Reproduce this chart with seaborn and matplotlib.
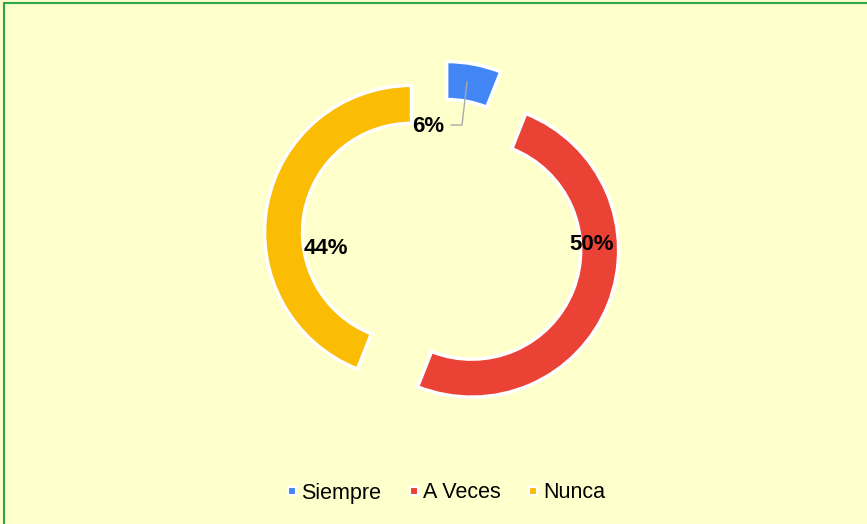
import matplotlib
matplotlib.use("Agg")
import matplotlib.pyplot as plt
import seaborn as sns
from matplotlib.lines import Line2D
from matplotlib.patches import Rectangle

categories = ["Siempre", "A Veces", "Nunca"]
values = [6, 50, 44]
label_texts = ["6%", "50%", "44%"]
colors = ["#4285F4", "#EA4335", "#FBBC04"]

sns.set_style("white")
plt.rcParams["font.family"] = ["Liberation Sans", "DejaVu Sans"]
plt.rcParams["text.color"] = "black"

bg = "#FFFFCC"
fig = plt.figure(figsize=(8.67, 5.24), dpi=100, facecolor=bg)
ax = fig.add_axes([0, 0, 1, 1])
ax.set_facecolor(bg)

# donut, pixel-like data space (y up); explode is in data units here
wedges, _ = ax.pie(
    values,
    colors=sns.color_palette(colors),
    startangle=90,
    counterclock=False,
    explode=[30, 33, 30],
    radius=147,
    center=(441, 286),
    wedgeprops=dict(width=38, edgecolor="white", linewidth=2.5),
    frame=True,
)
ax.set_xlim(0, 867)
ax.set_ylim(0, 524)
ax.set_aspect("equal")
ax.axis("off")

# percentage labels
ax.text(428, 524 - 127, label_texts[0], fontsize=16, fontweight="bold",
        ha="center", va="center")
ax.text(592, 524 - 244, label_texts[1], fontsize=16, fontweight="bold",
        ha="center", va="center")
ax.text(326, 524 - 249, label_texts[2], fontsize=16, fontweight="bold",
        ha="center", va="center")
ax.plot([467, 462, 451], [524 - 82, 524 - 125, 524 - 125],
        color="#aaaaaa", lw=1)

handles = [Line2D([], [], marker="s", ls="", markersize=6,
                  markerfacecolor=c, markeredgecolor="white", markeredgewidth=1.5)
           for c in colors]
ax.legend(handles, categories, loc="center", bbox_to_anchor=(445 / 867, 1 - 493 / 524),
          ncol=3, frameon=False, fontsize=15.5, handletextpad=0.15,
          columnspacing=1.2, handlelength=0.6)

fig.add_artist(Rectangle((4 / 867, -0.1), 1.2, (521 / 524) + 0.1,
                         transform=fig.transFigure, fill=False,
                         edgecolor="#2EA84A", linewidth=1.5, clip_on=False))

fig.savefig("out.png", dpi=100, facecolor=bg)
